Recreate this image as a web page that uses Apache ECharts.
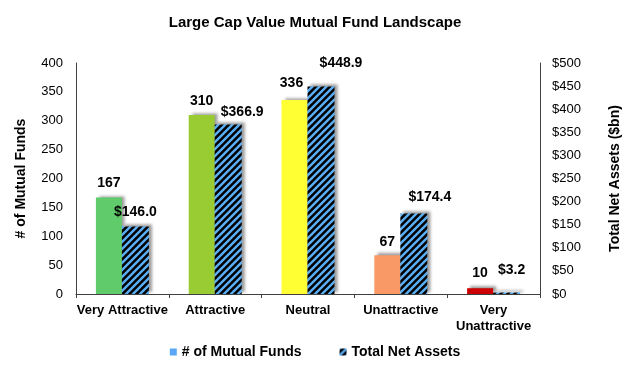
<!DOCTYPE html>
<html><head><meta charset="utf-8">
<script src="https://cdn.jsdelivr.net/npm/echarts@6/dist/echarts.min.js"></script>
<style>html,body{margin:0;padding:0;background:#fff}#c{width:630px;height:368px}</style>
</head><body><div id="c"></div>
<script>
const categories = ['Very Attractive', 'Attractive', 'Neutral', 'Unattractive', 'Very\nUnattractive'];
const fundCounts = [167, 310, 336, 67, 10];
const netAssets = [146.0, 366.9, 448.9, 174.4, 3.2];
const fundColors = ['#5FCB6A', '#99CC33', '#FFFF33', '#F99966', '#CC0000'];
const leftTicks = { min: 0, max: 400, interval: 50 };
const rightTicks = { min: 0, max: 500, interval: 50 };
// label nudges (style only), in pixels [dx, dy]
const fundLabelNudge = [[0, 0], [0, 0], [-3, -3], [0, 1], [0, -1]];
const assetLabelNudge = [[0, 0], [14, 2], [20, -9], [16, -2], [5, -8]];

function hatch() {
  const s = 7;
  const c = document.createElement('canvas');
  c.width = s; c.height = s;
  const g = c.getContext('2d');
  g.fillStyle = '#000'; g.fillRect(0, 0, s, s);
  g.strokeStyle = '#5AAEF5'; g.lineWidth = 2.4;
  g.beginPath();
  g.moveTo(-1, s + 1); g.lineTo(s + 1, -1);
  g.moveTo(-2, 2); g.lineTo(2, -2);
  g.moveTo(s - 2, s + 2); g.lineTo(s + 2, s - 2);
  g.stroke();
  return c;
}
const pat = { image: hatch(), repeat: 'repeat' };
const font = 'Liberation Sans, Arial, sans-serif';
const shadow = { shadowColor: 'rgba(0,0,0,0.4)', shadowBlur: 3, shadowOffsetX: 3, shadowOffsetY: -2 };

const chart = echarts.init(document.getElementById('c'));
chart.setOption({
  animation: false,
  textStyle: { fontFamily: font },
  title: { text: 'Large Cap Value Mutual Fund Landscape', left: 'center', top: 10,
    textStyle: { fontSize: 15, fontWeight: 'bold', color: '#000', fontFamily: font } },
  legend: { bottom: 4, left: 'center', itemWidth: 7, itemHeight: 7, itemGap: 38,
    textStyle: { fontSize: 14, fontWeight: 'bold', color: '#000' },
    data: [
      { name: '# of Mutual Funds', icon: 'rect', itemStyle: { color: '#5AA8F5' } },
      { name: 'Total Net Assets', icon: 'rect', itemStyle: { color: pat } }
    ] },
  grid: { left: 76, right: 88, top: 63, bottom: 74 },
  xAxis: { type: 'category', data: categories,
    axisLine: { lineStyle: { color: '#404040' } },
    axisTick: { show: true, length: 4, lineStyle: { color: '#404040' } },
    axisLabel: { fontSize: 13, fontWeight: 'bold', color: '#000', margin: 8, interval: 0, lineHeight: 16 } },
  yAxis: [
    { type: 'value', min: leftTicks.min, max: leftTicks.max, interval: leftTicks.interval,
      name: '# of Mutual Funds', nameLocation: 'middle', nameGap: 48,
      nameTextStyle: { fontSize: 14, fontWeight: 'bold', color: '#000' },
      axisLine: { show: true, lineStyle: { color: '#404040' } }, axisTick: { show: false },
      splitLine: { show: false },
      axisLabel: { fontSize: 13, color: '#000', margin: 13 } },
    { type: 'value', min: rightTicks.min, max: rightTicks.max, interval: rightTicks.interval,
      name: 'Total Net Assets ($bn)', nameLocation: 'middle', nameGap: 68, nameRotate: 90,
      nameTextStyle: { fontSize: 14, fontWeight: 'bold', color: '#000' },
      axisLine: { show: true, lineStyle: { color: '#404040' } }, axisTick: { show: false },
      splitLine: { show: false },
      axisLabel: { fontSize: 13, color: '#000', margin: 12, formatter: v => '$' + v } }
  ],
  series: [
    { name: '# of Mutual Funds', type: 'bar', yAxisIndex: 0, barWidth: 26, barGap: '0%',
      data: fundCounts.map((v, i) => ({ value: v,
        itemStyle: Object.assign({ color: fundColors[i] }, shadow),
        label: { offset: fundLabelNudge[i] } })),
      label: { show: true, position: 'top', distance: 7, fontSize: 14, fontWeight: 'bold', color: '#000' } },
    { name: 'Total Net Assets', type: 'bar', yAxisIndex: 1, barWidth: 27,
      data: netAssets.map((v, i) => ({ value: v, label: { offset: assetLabelNudge[i] } })),
      itemStyle: Object.assign({ color: pat }, shadow),
      label: { show: true, position: 'top', distance: 7, fontSize: 14, fontWeight: 'bold', color: '#000',
        formatter: p => '$' + p.value.toFixed(1) } }
  ]
});
</script></body></html>
